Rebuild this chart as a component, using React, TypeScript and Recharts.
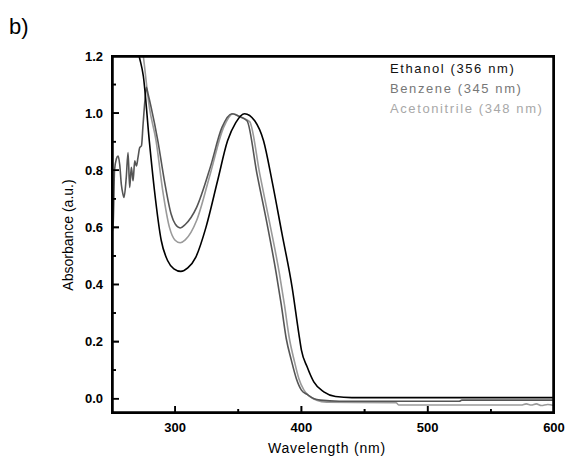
import React from "react";
import { LineChart, Line, XAxis, YAxis, ReferenceArea } from "recharts";

const ethanolWl = [265, 268, 271.5, 274.8, 279.6, 283.6, 289, 294, 299, 304.5, 310, 316.4, 324.4, 333.6, 341.5, 348, 355, 363, 370, 376.7, 384.6, 392.6, 397.9, 400, 404.5, 409.8, 417.7, 427, 440, 600];
const ethanolAbs = [1.38, 1.28, 1.2, 1.13, 0.9, 0.73, 0.554, 0.484, 0.455, 0.446, 0.458, 0.496, 0.6, 0.763, 0.903, 0.967, 0.998, 0.973, 0.903, 0.763, 0.578, 0.391, 0.229, 0.17, 0.112, 0.059, 0.024, 0.008, 0.004, 0.004];

const benzeneWl = [250, 251, 252, 253.5, 254.8, 256.1, 257.4, 258.5, 259.5, 261.3, 262.7, 264, 265.3, 266.7, 268, 269.3, 270.6, 272, 273.3, 274.6, 276, 277.2, 278.6, 281, 286.3, 291.5, 296.8, 300, 304, 308, 317, 327.8, 337, 345, 350, 356.9, 364.8, 372.8, 380, 384, 388, 392, 396, 400, 404.5, 410, 415, 430, 525, 527, 600];
const benzeneAbs = [0.58, 0.62, 0.8, 0.84, 0.85, 0.82, 0.75, 0.72, 0.705, 0.775, 0.862, 0.74, 0.81, 0.763, 0.833, 0.815, 0.845, 0.88, 0.885, 0.96, 1.04, 1.09, 1.066, 1.02, 0.903, 0.763, 0.647, 0.612, 0.598, 0.61, 0.67, 0.81, 0.949, 0.998, 0.99, 0.973, 0.787, 0.612, 0.44, 0.33, 0.21, 0.135, 0.07, 0.03, 0.015, 0.0, -0.005, -0.009, -0.009, -0.005, -0.005];

const acetonitrileWl = [272, 274.8, 279.6, 284.9, 290.2, 295.5, 300, 304, 308, 317, 327.8, 338.3, 346, 352, 359, 367, 375, 382.5, 386.5, 390.5, 394.5, 398, 402, 406, 412, 420, 475, 477, 574, 578, 582, 586, 590, 595, 600];
const acetonitrileAbs = [1.3, 1.2, 1.02, 0.903, 0.728, 0.6, 0.555, 0.546, 0.556, 0.624, 0.787, 0.949, 0.998, 0.985, 0.97, 0.787, 0.612, 0.44, 0.33, 0.21, 0.13, 0.07, 0.03, 0.01, -0.005, -0.012, -0.014, -0.022, -0.022, -0.018, -0.022, -0.018, -0.024, -0.02, -0.024];

const X_MIN = 250;
const X_MAX = 600;
const Y_MIN = -0.05;
const Y_MAX = 1.2;

const xTicks = [300, 350, 400, 450, 500, 550, 600];
const xLabelTicks = [300, 400, 500, 600];
const yTicks = [0, 0.1, 0.2, 0.3, 0.4, 0.5, 0.6, 0.7, 0.8, 0.9, 1.0, 1.1, 1.2];
const yLabelTicks = [0, 0.2, 0.4, 0.6, 0.8, 1.0, 1.2];

const legendItems = [
  { label: "Ethanol (356 nm)", color: "#111111" },
  { label: "Benzene (345 nm)", color: "#777777" },
  { label: "Acetonitrile (348 nm)", color: "#a8a8a8" },
];

const toData = (wl: number[], ab: number[]) => wl.map((w, i) => ({ w, a: ab[i] }));
const ethanolData = toData(ethanolWl, ethanolAbs);
const benzeneData = toData(benzeneWl, benzeneAbs);
const acetonitrileData = toData(acetonitrileWl, acetonitrileAbs);

// plot box outline, drawn through the chart's own scales
const frameData = [
  { w: X_MIN, a: Y_MIN },
  { w: X_MIN, a: Y_MAX },
  { w: X_MAX, a: Y_MAX },
  { w: X_MAX, a: Y_MIN },
  { w: X_MIN, a: Y_MIN },
];

// inward tick marks (lengths in axis units: ~7px major, ~4px minor)
const PX_PER_NM = 442 / (X_MAX - X_MIN);
const PX_PER_ABS = 357 / (Y_MAX - Y_MIN);
const isMajor = (list: number[], v: number) => list.some((t) => Math.abs(t - v) < 1e-6);
const tickMarkData: { w: number; a: number | null }[] = [];
xTicks.forEach((t) => {
  const len = (isMajor(xLabelTicks, t) ? 7 : 4) / PX_PER_ABS;
  tickMarkData.push({ w: t, a: Y_MIN }, { w: t, a: Y_MIN + len }, { w: t, a: null });
});
yTicks.forEach((t) => {
  const len = (isMajor(yLabelTicks, t) ? 7 : 4) / PX_PER_NM;
  tickMarkData.push({ w: X_MIN, a: t }, { w: X_MIN + len, a: t }, { w: X_MIN + len, a: null });
});

const FONT = "'Liberation Sans', Arial, sans-serif";
const INK = "#000000";

const renderXTick = (props: any) => {
  const { x, y, payload } = props;
  const v = payload.value;
  const major = isMajor(xLabelTicks, v);
  return (
    <g>
      <path d={`M${x},${y}V${y - (major ? 7 : 4)}`} stroke={INK} strokeWidth={1.6} fill="none" />
      {major && (
        <text x={x} y={y + 19} textAnchor="middle" fontFamily={FONT} fontWeight="bold" fontSize={13} fill="#000">
          {v}
        </text>
      )}
    </g>
  );
};

const renderYTick = (props: any) => {
  const { x, y, payload } = props;
  const v = payload.value;
  const major = isMajor(yLabelTicks, v);
  return (
    <g>
      <path d={`M${x},${y}H${x + (major ? 7 : 4)}`} stroke={INK} strokeWidth={1.6} fill="none" />
      {major && (
        <text x={x - 9} y={y + 4.5} textAnchor="end" fontFamily={FONT} fontWeight="bold" fontSize={13} fill="#000">
          {v.toFixed(1)}
        </text>
      )}
    </g>
  );
};

const XTitle = () => (
  <text x={327} y={453} textAnchor="middle" fontFamily={FONT} fontSize={14} fill="#000" style={{ letterSpacing: "0.8px" }}>
    Wavelength (nm)
  </text>
);

const YTitleAndAnnotations = () => (
  <g>
    <text x={68} y={240} transform="rotate(-90, 68, 235)" textAnchor="middle" fontFamily={FONT} fontSize={14} fill="#000">
      Absorbance (a.u.)
    </text>
    <text x={9} y={34} fontFamily={FONT} fontSize={22} fill="#000">
      b)
    </text>
    {legendItems.map((it, i) => (
      <text key={it.label} x={390} y={72.5 + i * 20} fontFamily={FONT} fontSize={13} fill={it.color} style={{ letterSpacing: "1.6px" }}>
        {it.label}
      </text>
    ))}
  </g>
);

const axisStroke = { stroke: INK, strokeWidth: 2 };

export default function App() {
  return (
    <div>
      <style>{"body{margin:0}"}</style>
      <LineChart width={567} height={457} margin={{ top: 56, right: 13, bottom: 14, left: 62 }}>
        <XAxis
          type="number"
          dataKey="w"
          domain={[X_MIN, X_MAX]}
          ticks={xTicks}
          interval={0}
          allowDataOverflow
          height={30}
          tickSize={0}
          tickMargin={0}
          tickLine={false}
          axisLine={axisStroke}
          tick={renderXTick}
          label={<XTitle />}
        />
        <YAxis
          type="number"
          domain={[Y_MIN, Y_MAX]}
          ticks={yTicks}
          interval={0}
          allowDataOverflow
          width={50}
          tickSize={0}
          tickMargin={0}
          tickLine={false}
          axisLine={axisStroke}
          tick={renderYTick}
          label={<YTitleAndAnnotations />}
        />
        <ReferenceArea x1={X_MIN} x2={X_MAX} y1={Y_MIN} y2={Y_MAX} fill="none" fillOpacity={0} stroke={INK} strokeWidth={2} />
        <Line data={acetonitrileData} dataKey="a" type="monotone" stroke="#9a9a9a" strokeWidth={1.6} dot={false} isAnimationActive={false} />
        <Line data={benzeneData} dataKey="a" type="monotone" stroke="#555555" strokeWidth={1.6} dot={false} isAnimationActive={false} />
        <Line data={ethanolData} dataKey="a" type="monotone" stroke="#000000" strokeWidth={1.6} dot={false} isAnimationActive={false} />
        <Line data={frameData} dataKey="a" type="linear" stroke="#000000" strokeWidth={3.5} dot={false} activeDot={false} legendType="none" isAnimationActive={false} />
        <Line data={tickMarkData} dataKey="a" type="linear" stroke="#000000" strokeWidth={1.6} dot={false} activeDot={false} legendType="none" connectNulls={false} isAnimationActive={false} />
      </LineChart>
    </div>
  );
}
